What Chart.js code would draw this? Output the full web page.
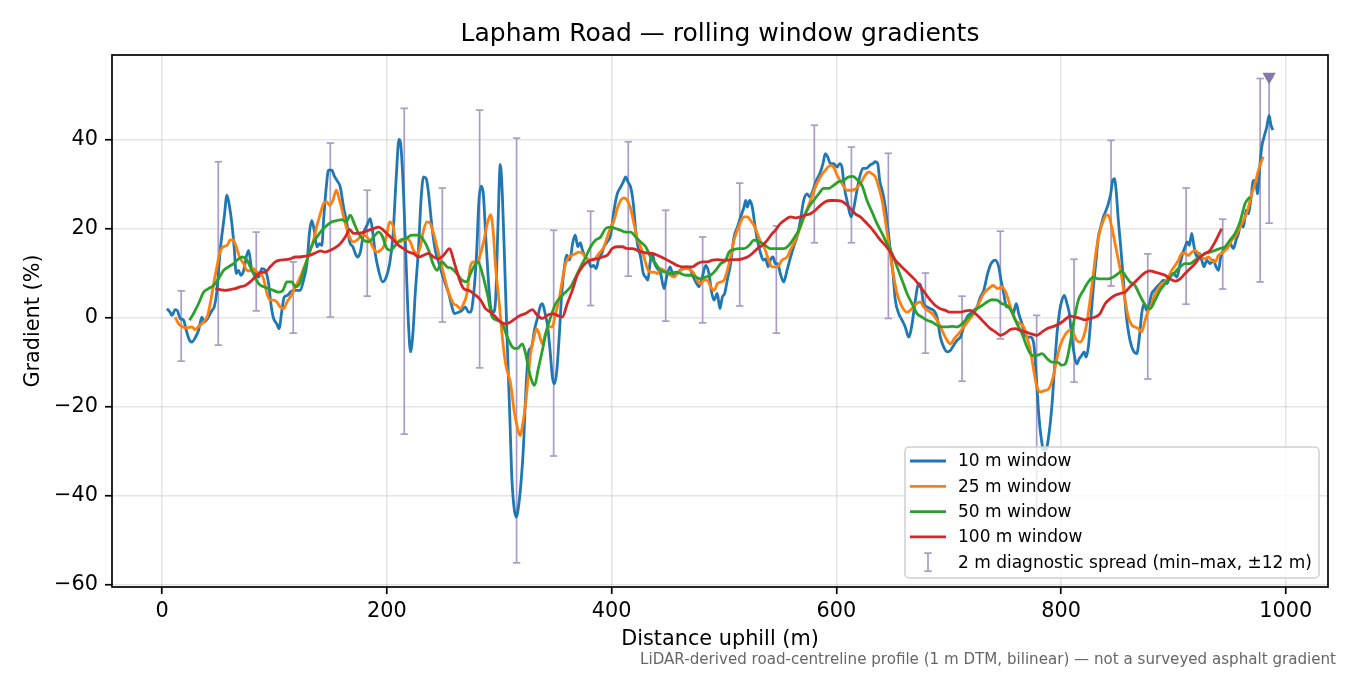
<!DOCTYPE html>
<html>
<head>
<meta charset="utf-8">
<title>Lapham Road — rolling window gradients</title>
<script src="https://cdn.jsdelivr.net/npm/chart.js@4.4.1/dist/chart.umd.min.js"></script>
<style>
  html, body { margin: 0; padding: 0; background: #fff; }
  canvas { display: block; }
</style>
</head>
<body>
<canvas id="gradChart" width="1350" height="675"></canvas>
<script>
// 10 m rolling window
const dist10 = [
  4.2, 7, 8.6, 11.6, 13.6, 16, 19, 21.4, 24.3, 26.4,
  29.4, 32.3, 35.3, 37.4, 40.4, 44.2, 46.3, 48.7, 51.6, 55.2,
  57.6, 60, 62, 64, 65.9, 67.9, 70, 72.4, 74.8, 76.9,
  79.8, 82.8, 85.8, 88.7, 91.7, 94.7, 96.7, 99.1, 102, 104,
  106.5, 108.6, 111.6, 114, 117, 120, 122.8, 125.8, 128.8, 131,
  133, 135.3, 137.7, 140, 142.1, 143.6, 146, 148, 151, 153,
  155.5, 158.5, 161.4, 164.4, 166.8, 169.7, 171.8, 173.9, 176.3, 179.2,
  182.2, 185.2, 187.5, 189.6, 192.6, 196.1, 199.4, 202.4, 205.3, 208.3,
  210.7, 212.5, 214.8, 217.2, 219.3, 221, 223.1, 225.2, 228.2, 230.3,
  232.6, 235, 237.1, 240.1, 243, 246, 249, 252, 255, 257.9,
  260, 263.8, 266.8, 269.7, 272.7, 274.5, 277.5, 279.8, 281.9, 284,
  285.8, 287.8, 289.9, 292.3, 294.7, 296.7, 298.8, 300.9, 302.7, 304.7,
  307.1, 309.5, 311, 313.1, 315.1, 317.3, 319.5, 321.5, 323, 324.3,
  326.4, 328.8, 331.2, 334.2, 336.3, 338.4, 340.8, 343.1, 345.2, 347.3,
  349.1, 351.2, 353.3, 355.6, 358, 360.1, 362.2, 364, 365.2, 367.6,
  369.9, 372, 374.1, 376.4, 379.3, 381.7, 383.8, 386.2, 388.2, 391.2,
  393.2, 396.1, 399.1, 402.1, 405, 408, 410.4, 412.5, 414.5, 416.9,
  419.3, 421.4, 423.4, 425.8, 428.2, 430.3, 432.3, 434.1, 436.2, 438.3,
  440.7, 443.6, 446.6, 449, 452, 454.9, 457.9, 460.8, 463.8, 466.8,
  469.7, 472.7, 475.7, 477.7, 480.7, 483.7, 486.6, 488.7, 491.1, 494,
  496.4, 498.5, 500.6, 502.9, 505.9, 508.9, 511.9, 514.8, 517.8, 519.3,
  520.8, 522.8, 525.2, 527.3, 529.7, 532.6, 535, 537.1, 539.2, 541.2,
  543.6, 545.7, 547.8, 550.1, 553.1, 556.1, 558.5, 562, 565, 568,
  570.9, 573.9, 576.3, 579.2, 582.2, 585.2, 588.1, 590.2, 592.3, 594.7,
  597.6, 600.6, 603, 605, 607.1, 610.1, 613.1, 615.4, 617.8, 620.8,
  623.7, 626.7, 629.7, 632.6, 634.7, 636.8, 638.6, 641.5, 643.6, 645.7,
  648.1, 650.4, 652.5, 655.5, 658.5, 661.3, 664.4, 667.4, 670.3, 673.3,
  675.4, 677.7, 680.7, 683.7, 686.6, 689.6, 692.6, 695.5, 698.5, 701.5,
  704.5, 707.4, 710.4, 713.4, 716.3, 719.3, 722.3, 725.2, 728.2, 731.2,
  734.7, 737.7, 741.5, 744.5, 746.6, 749, 751.3, 754.3, 757.3, 760.2,
  762.3, 765.3, 767.4, 770.3, 772.7, 775.7, 778, 780.1, 782.2, 784.6,
  786.9, 789.3, 792, 794, 796.4, 798.8, 800.8, 802.9, 805.3, 807.4,
  809.5, 811.6, 813.9, 816.3, 818.4, 820.5, 822.3, 824.3, 826.4, 828.8,
  831.2, 833.2, 835.3, 837.7, 840.1, 842.1, 844.2, 846, 847.5, 849,
  851, 853.1, 855.5, 857.9, 860.2, 862.9, 865, 867.4, 869.7, 871.8,
  873.9, 876.3, 878, 880.7, 882.8, 885.2, 888.1, 891.1, 894.1, 897,
  900, 903, 906, 908.3, 910.4, 912.5, 914.2, 916.3, 918.4, 920.8,
  923.2, 925.2, 927.3, 929.7, 932.6, 935.6, 938, 940.1, 942.1, 944.5,
  947.5, 950.4, 953.4, 955.8, 957.9, 959.9, 962.3, 964.7, 966.8, 968.8,
  971.2, 973.6, 974.8, 976.6, 978.6, 980.7, 983.1, 985.2, 986.6, 988.4
];
const grad10 = [
  2.1, 1.3, 0.6, 1.9, 1.6, -0.1, -0.5, -2.8, -5, -5.4,
  -4.4, -2.8, 0.2, -0.9, -0.1, 1.7, 2.5, 6.2, 15.2, 22.7,
  27.6, 24.9, 21.2, 16, 10, 10.7, 9.6, 10.6, 13.7, 15.2,
  10.7, 10, 9.2, 11.1, 10.7, 7.7, 3.2, -0.1, -1.3, -2.4,
  1.7, 4.7, 5.1, 5.8, 6.2, 6.2, 6.2, 8.5, 12.2, 19,
  21.9, 19.7, 16, 16.7, 16.3, 21.9, 29.4, 33.2, 33.2, 32,
  30.9, 29.4, 24.9, 21.2, 17.1, 16, 14.5, 13.7, 14.8, 19,
  20.8, 22.3, 19, 14.5, 10.7, 8.1, 9.2, 12.2, 18.2, 31.7,
  40.1, 38.4, 27.9, 11.5, -2, -7.6, -3.5, 5.5, 16, 26.4,
  31.7, 31.3, 27.9, 20.4, 15.2, 12.6, 10, 7.7, 5.5, 2.5,
  1, 1.3, 1.7, 2.5, 1.3, 1.3, 6.2, 14.5, 26.4, 29.6,
  27.9, 19, 10, 2.5, 1.3, 4, 20.4, 34.5, 27.9, 13,
  -5.8, -23, -35, -42.5, -44.7, -42, -36.5, -29, -20, -13.3,
  -7.3, -6.5, -2.8, 0.2, 2.5, 3.2, 1, -2, -7.3, -13.3,
  -14.8, -11.8, -4.3, 5.5, 11.5, 14.1, 13, 14.5, 16.7, 18.6,
  16, 16.9, 15.2, 13.7, 13, 11.5, 11.8, 11.1, 13, 14.5,
  16, 17.1, 18.6, 24.2, 27.9, 29.4, 30.6, 31.7, 30.6, 29.4,
  25.7, 19.7, 16, 13.7, 10, 9.2, 8.5, 12.2, 14.5, 12.2,
  11.1, 10, 6.6, 9.2, 11.5, 9.6, 10, 10.7, 11.1, 11.5,
  11.1, 9.2, 7.7, 7, 9.2, 11.8, 10, 6.2, 4, 5.5,
  2.1, 4.7, 5.5, 8.5, 12.2, 18.2, 20.4, 22.7, 24.9, 26.4,
  24.9, 26.4, 24.9, 21.2, 17.5, 14.5, 13, 13.3, 11.5, 13,
  13.7, 12.2, 12.2, 10, 8.1, 10.7, 13, 16, 18.2, 21.9,
  26.4, 27.9, 27.2, 28.7, 30.9, 32.4, 34.7, 36.9, 36.2, 34.7,
  34.7, 33.9, 34.7, 33.9, 29.4, 25.7, 22.7, 24.6, 27.9, 31.7,
  33.6, 33.6, 34.3, 34.7, 35.1, 34.7, 30.9, 27.9, 24.9, 20.4,
  15.2, 10, 4, 1, -0.5, -2, -4.3, -1.3, 4, 7.7,
  7, 3.2, 2.5, 2.1, 1.7, 0.2, -4.3, -6.5, -7.6, -7.3,
  -6.1, -5, -4.3, -2, 0.2, 1, 1.7, 2.5, 4.7, 6.2,
  10, 12.2, 13, 11.5, 8.5, 5.5, 2.5, 2.5, 1, 3.2,
  1, -1.3, -3.5, -4.3, -4.3, -5.8, -13.3, -21.5, -26.7, -29.7,
  -29.4, -26, -19.3, -11.8, -3.5, 1.7, 4, 5.1, 3.2, 1,
  -4.3, -8, -10.3, -9.1, -8.4, -7.6, -8.8, -6.5, -0.5, 7,
  13, 18.2, 20.4, 22.7, 24.2, 25.7, 27.9, 30.9, 31.3, 28.7,
  21.9, 16, 8.5, 1, -3.5, -6.5, -7.6, -8, -4.3, 1,
  3.2, 1.7, 2.5, 5.5, 6.2, 7, 7.7, 8.5, 7.7, 9.2,
  10, 9.2, 12.2, 14.5, 16, 17.1, 16.3, 19, 16, 13.7,
  14.5, 13, 11.5, 13, 12.2, 13, 11.5, 10.7, 13.7, 15.2,
  16, 16.7, 15.6, 17.5, 19, 21.2, 20.4, 24.2, 23.4, 26.4,
  30.9, 30.2, 27.9, 33.2, 38.4, 40.7, 42.9, 45.5, 43.6, 42.2
];

// 25 m rolling window
const dist25 = [
  11.6, 14.5, 17.5, 22, 26.4, 29.4, 32.3, 36.8, 40.4, 43.3,
  46.3, 48.7, 51, 54, 57.6, 60.5, 62.9, 65.9, 68.8, 72.4,
  75.4, 78.3, 81.3, 84.3, 87.2, 90.2, 93.2, 96.1, 99.1, 102,
  105, 108, 111, 114, 117, 120, 122.8, 125.8, 128.8, 131.8,
  134.7, 137.7, 140.7, 143.6, 146.6, 149, 151.9, 154.9, 157.9, 160.8,
  163.8, 166.8, 169.7, 173.3, 176.3, 179.2, 182.2, 185.2, 188.1, 191.1,
  194.1, 197, 200, 202.4, 205.3, 208.3, 211.3, 214.8, 217.8, 220.8,
  223.7, 226.7, 229.7, 232.6, 235.6, 238.6, 241.5, 244.5, 247.5, 250.4,
  253.4, 256.4, 259.3, 262.3, 265.3, 268.2, 271.2, 274.2, 276.9, 279.8,
  283.4, 286.4, 289.3, 292.3, 294.7, 296.7, 299.7, 302.7, 305.6, 310.1,
  313.1, 316, 318.4, 321.4, 323.4, 325.5, 327.9, 330.9, 333.2, 335.3,
  338.3, 341.2, 344.2, 347.2, 350.1, 353.1, 356.1, 359, 362, 365,
  368, 370.9, 373.9, 376.9, 381.3, 384.9, 388.7, 393.2, 396.1, 399.1,
  402.1, 405, 408, 411, 414, 416.9, 419.9, 422.8, 425.8, 428.8,
  431.8, 434.7, 437.7, 440.7, 443.6, 446.6, 449.6, 452.5, 455.5, 458.5,
  461.4, 464.4, 467.4, 470.3, 473.3, 476.3, 479.2, 482.2, 485.2, 488.1,
  491.1, 494.1, 497, 500, 503, 505.9, 508.9, 511.9, 514.8, 517.8,
  520.8, 523.7, 526.7, 529.7, 532.6, 535.6, 539.8, 542.7, 545.7, 548.7,
  551.6, 556.1, 559, 563.5, 568, 572.4, 576.9, 581.3, 585.8, 590.2,
  594.7, 597.6, 600.6, 605, 609.5, 613.9, 617.8, 621.4, 625.8, 628.8,
  631.8, 634.7, 637.7, 640.7, 643.6, 646.6, 649.6, 654, 658.5, 662.9,
  667.4, 671.2, 674.8, 677.7, 681.3, 685.2, 689.6, 694.1, 698.5, 701.5,
  705, 708.9, 713.4, 717.8, 722.3, 726.7, 731.2, 735.6, 739.5, 743.6,
  747.5, 751.3, 754.9, 759.3, 763.8, 766.8, 769.7, 772.7, 775.7, 778.6,
  781.6, 785.2, 789, 793, 796, 799.2, 803.8, 808, 811, 813.9,
  816.9, 819.9, 822.8, 825.8, 828.8, 831.8, 834.7, 837.7, 840.1, 842.1,
  845.1, 848.1, 851, 854, 857, 859.9, 862.9, 865.9, 868.8, 871.8,
  874.8, 877.7, 880.7, 883.7, 886.6, 889.6, 892.6, 895.5, 898.5, 901.5,
  904.5, 907.4, 910.4, 913.4, 916.3, 919.3, 922.3, 925.2, 928.2, 931.2,
  934.1, 937.1, 940.1, 943, 946, 949, 951.9, 954.9, 957.9, 960.8,
  963.8, 966.8, 969.7, 972.7, 975.7, 978.6, 980.1
];
const grad25 = [
  0.2, -1.3, -1.9, -2.2, -2, -2.6, -1.9, -0.9, 0.6, 4,
  8.5, 11.5, 14.5, 16, 16.3, 17.5, 17.6, 16, 13.7, 12.2,
  10.7, 10.6, 11.1, 10.3, 10, 8.8, 5.5, 4, 4, 3.6,
  2.5, 2.1, 3.6, 4.7, 6.2, 7.7, 9.2, 11.1, 13, 15.2,
  17.5, 20.8, 23.4, 25.7, 26.1, 25.3, 26.4, 28.7, 26.4, 23.4,
  20.4, 18.2, 17.1, 17.5, 18.2, 18.6, 18.2, 17.1, 15.6, 14.8,
  15.2, 16, 19, 21.6, 20.8, 17.1, 17.1, 17.5, 17.8, 17.1,
  15.2, 14.5, 16, 19.7, 21.6, 21.2, 19, 16, 13, 10,
  7, 4.7, 3.2, 2.8, 2.1, 3.2, 5.5, 11.5, 12.6, 12.2,
  14.5, 17.5, 21.2, 23.2, 19, 11.5, 4, -4.3, -10.3, -14.8,
  -20.7, -24.5, -26.4, -23, -19.3, -14, -8, -4.3, -2.4, -3.5,
  -5.8, -3.5, -2, -2, 1, 4, 8.5, 12.2, 13.7, 14.1,
  14.5, 14.8, 14.5, 13.7, 13, 13.3, 14.5, 16, 18.2, 20.4,
  21.9, 24.6, 26.4, 27, 26.4, 24.6, 21.2, 17.8, 16, 13.7,
  11.1, 10.3, 10.3, 10, 11.1, 10.7, 10.3, 9.6, 9.2, 10,
  10.7, 11.1, 11.1, 10.7, 10, 8.5, 7.7, 8.5, 8.5, 7,
  6.2, 7.7, 8.1, 8.5, 10.7, 13.7, 17.5, 19.7, 21.6, 22.7,
  22.7, 21.9, 20.8, 19, 17.1, 16, 13, 11.5, 11.5, 11.8,
  13, 13.7, 15.2, 17.5, 20.4, 23.4, 26.4, 29.4, 31.7, 33.2,
  34.3, 33.9, 32.1, 30.2, 28.7, 28.7, 29.1, 30.2, 32.1, 32.8,
  32.4, 31.7, 29.4, 26.4, 21.9, 16.7, 11.5, 5.5, 2.5, 1.3,
  2.1, 3.2, 3.6, 2.5, 1.7, 1, -0.5, -2.8, -5, -5.8,
  -4.6, -3.5, -2, -0.5, 1, 3.2, 5.5, 6.6, 7.3, 6.6,
  7, 5.5, 2.5, -0.5, -1.3, -2, -4.3, -7.3, -11.8, -15.5,
  -16.6, -16.3, -15.9, -13.2, -9.5, -6.2, -3.7, -2.8, -3.5, -5,
  -5.4, -4.3, -1.3, 4, 10, 16, 19.7, 21.9, 23.1, 23.1,
  20.4, 16.7, 13, 9.2, 4, 0.2, -1.6, -2, -2.4, -3.1,
  -0.5, 1.7, 3.2, 5.5, 6.6, 7.7, 8.1, 9.2, 10.7, 11.8,
  13, 14.5, 14.5, 14.1, 14.8, 15.2, 14.5, 13.7, 13.3, 13.7,
  13, 12.6, 14.1, 14.5, 15.2, 16, 17.5, 18.2, 19.7, 21.2,
  22.7, 24.9, 27.9, 30.2, 33.2, 35.4, 36.2
];

// 50 m rolling window
const dist50 = [
  24.3, 27.9, 32.3, 36.8, 41.2, 45.7, 50.1, 54.6, 59, 63.5,
  68, 71.8, 75.4, 78.3, 81.9, 85.8, 90.2, 94.7, 99.1, 103.6,
  107.4, 111, 115.4, 118.4, 122.3, 125.2, 128.8, 133.2, 137.7, 142.1,
  146.6, 151, 155.5, 159.9, 163.8, 167.4, 170.9, 174.8, 179.2, 183.7,
  188.1, 192.6, 195.5, 200, 203, 207.4, 211.9, 216.3, 222.3, 228.2,
  232.6, 237.1, 241, 244.5, 249, 253.4, 257.9, 262.3, 266.8, 270.6,
  274.5, 278, 281, 284.9, 289.3, 293.8, 298.2, 302.7, 307.1, 311.6,
  316, 320.5, 323.4, 326.4, 329.4, 331.5, 334.4, 338.3, 342.1, 345.7,
  350.1, 354.6, 359, 363.5, 368, 372.4, 376.9, 381.3, 385.8, 390.2,
  394.7, 399.1, 403.6, 408, 412.5, 416.9, 421.4, 425.8, 430.3, 434.7,
  439.2, 443.6, 448.1, 452.5, 457, 461.4, 465.9, 470.3, 474.8, 479.2,
  483.7, 488.1, 492.6, 497, 501.5, 504.5, 508.9, 513.4, 517.8, 522.3,
  526.7, 531.2, 535.6, 541.2, 547.2, 553.1, 557.6, 562, 566.5, 570.9,
  575.4, 579.8, 584.3, 588.7, 593.2, 597.6, 602.1, 606.5, 611, 614.8,
  618.4, 622.8, 627.3, 631.8, 636.2, 640.7, 645.1, 649.6, 654, 658.5,
  662.9, 667.4, 671.8, 676.3, 680.7, 685.2, 689.6, 694.1, 698.5, 703,
  707.4, 711.9, 716.3, 720.8, 725.2, 729.7, 734.1, 738.6, 743, 747.5,
  752, 756.4, 760.8, 765.3, 769.7, 774.2, 778.6, 783.1, 787.5, 792,
  796.4, 800.8, 803.8, 806, 808, 811, 815.4, 819.9, 824.3, 828.8,
  833.2, 837.7, 842.1, 846.6, 851, 854, 857, 861.4, 865.9, 868.8,
  873.3, 876.3, 879.2, 883.7, 888.1, 892.6, 897, 901.5, 906, 910.4,
  914.8, 919.3, 923.7, 928.2, 932.6, 937.1, 941.5, 946, 950.4, 954.9,
  959.3, 963.8, 968.2
];
const grad50 = [
  -0.5, 1, 3.2, 5.8, 6.6, 7.3, 8.8, 10.7, 11.5, 12.2,
  13.3, 13.7, 13, 11.5, 9.6, 7.7, 7, 6.6, 6.2, 5.8,
  6.2, 8.1, 8.1, 7, 7.7, 10, 13, 16.3, 18.2, 19.7,
  20.8, 21.6, 21.9, 22.1, 21.6, 23.1, 21.2, 19, 17.5, 17.1,
  18.2, 19.3, 18.6, 15.6, 15.2, 16.3, 17.5, 17.8, 18.6, 18.6,
  17.5, 15.2, 12.2, 10.7, 12.6, 11.5, 11.1, 10, 8.5, 8.1,
  10, 11.8, 12.6, 10, 5.5, 0.2, -0.5, -1.3, -4.3, -6.5,
  -6.9, -5.8, -8, -11.8, -14.4, -15.1, -11.8, -7.3, -2.8, 0.2,
  3.2, 4.7, 5.8, 7, 9.2, 11.5, 13.7, 16, 17.5, 18.2,
  20.1, 20.4, 20.1, 19.7, 19.3, 19.3, 18.2, 17.1, 16, 13.7,
  12.2, 10.7, 10.3, 10, 10.3, 10, 9.6, 9.6, 9.2, 8.8,
  9.2, 9.6, 10.7, 12.2, 13, 14.8, 15.4, 15.6, 15.6, 16.3,
  17.5, 17.1, 16.5, 15.6, 15.6, 15.6, 16.3, 17.8, 19.7, 22.7,
  24.9, 26.4, 27.9, 29.1, 29.1, 29.8, 30.6, 30.9, 31.7, 31.8,
  31.1, 29.8, 26.4, 23.8, 21.2, 19, 16.7, 14.5, 11.5, 8.5,
  5.5, 3.2, 1, 0.2, -0.5, -0.9, -1.6, -2, -2, -1.9,
  -2, -1.3, -0.1, 1, 2.1, 2.8, 3.6, 4.1, 4, 3.2,
  2.8, 1.3, -1.3, -3.5, -6.5, -8.4, -8.4, -8, -9.1, -9.9,
  -9.9, -10.6, -10.3, -8.5, -5.8, -1.3, 4, 6.2, 8.1, 9.2,
  8.8, 8.8, 8.8, 9.2, 10, 10.6, 9.6, 8.1, 7.3, 5.8,
  3.6, 2.5, 2.1, 4, 6.2, 7.7, 9.2, 10.3, 11.5, 12.2,
  12.2, 13, 13.7, 14.5, 14.8, 15.2, 15.6, 16, 17.5, 19,
  21.6, 25.7, 27.2
];

// 100 m rolling window
const dist100 = [
  47.2, 51.6, 56.1, 60.5, 65, 69.4, 73.9, 78.3, 82.8, 87.2,
  91.7, 96.1, 100.6, 105, 109.5, 114, 118.4, 122.8, 127.3, 131.8,
  136.2, 140.7, 145.1, 149.6, 154, 158.5, 162.9, 166.8, 170.3, 174.8,
  179.2, 183.7, 188.1, 192.6, 197, 201.5, 205.9, 210.4, 214.8, 219.3,
  223.7, 228.2, 232.6, 237.1, 241.5, 246, 250.4, 255.8, 259.3, 263.8,
  268.2, 272.7, 279, 283.4, 287.8, 292.3, 296.7, 301.2, 305.6, 310.1,
  314.5, 319, 323.4, 329.4, 333.8, 338.3, 342.7, 347.2, 351.6, 356.1,
  360.5, 365, 369.4, 373.9, 378.3, 382.8, 387.2, 391.7, 396.1, 400.6,
  405, 409.5, 413.9, 418.4, 422.8, 427.3, 431.8, 436.2, 440.7, 445.1,
  449.6, 454, 458.5, 462.9, 467.4, 471.8, 476.3, 480.7, 485.2, 489.6,
  494.1, 498.5, 503, 507.4, 511.9, 516.3, 520.8, 525.2, 529.7, 534.1,
  538.6, 543, 545.7, 550.1, 554.6, 559, 563.5, 568, 572.4, 576.9,
  581.3, 585.8, 590.2, 594.7, 599.1, 603.6, 608, 612.5, 616.9, 621.4,
  625.8, 630.3, 634.7, 639.2, 643.6, 648.1, 652.5, 657, 661.4, 665.9,
  670.3, 674.8, 679.2, 683.7, 688.1, 692.6, 697.1, 701.5, 706, 710.4,
  714.9, 719.3, 723.8, 728.2, 732.7, 737.1, 741.5, 746, 750.5, 754.9,
  759.4, 763.8, 768.3, 772.7, 778.6, 783.1, 787.5, 792, 796.4, 800.8,
  805.3, 808, 812.5, 816.9, 821.4, 825.8, 830.3, 834.7, 839.2, 843.6,
  848.1, 852.5, 857, 861.4, 865.9, 870.3, 874.8, 879.2, 883.7, 888.1,
  892.6, 897, 901.5, 906, 910.4, 914.8, 919.3, 923.7, 928.2, 932.6,
  937.1, 940.1, 943
];
const grad100 = [
  6.6, 6.4, 6.2, 6.4, 6.6, 7, 7.3, 8.1, 9.2, 10.2,
  10.3, 11.5, 12.6, 13, 13.1, 13.3, 13.7, 13.7, 13.9, 14.1,
  14.6, 15.1, 14.8, 15.2, 15.8, 16.7, 18.2, 19.9, 19, 19,
  19.3, 19.7, 20.1, 20.4, 19.7, 18.6, 17.5, 16.3, 15.6, 14.8,
  14.5, 13.7, 14.1, 14.5, 13.7, 13.3, 14.1, 15.6, 13, 9.2,
  6.6, 6.2, 5.1, 4, 2.1, 1.3, 0.2, -0.9, -1.3, -0.9,
  -0.1, 0.6, 1, 1.9, 0.6, -0.1, 0.6, 1, 0.6, 0.2,
  3.2, 6.2, 9.6, 11.5, 12.6, 13.1, 13.3, 13.7, 14.1, 15.6,
  16, 16, 15.6, 15.6, 15.2, 14.8, 14.6, 14.5, 14.1, 13.6,
  13, 12.4, 11.8, 11.5, 11.5, 11.5, 12.2, 12.6, 12.6, 13,
  13.1, 13, 13, 13.1, 13.1, 13.3, 13.7, 14.5, 15.6, 16.3,
  17.5, 19, 19.7, 21.2, 22.1, 22.7, 22.5, 22.7, 23.1, 23.4,
  24.2, 25.3, 26.1, 26.4, 26.4, 26.3, 25.7, 24.6, 23.4, 22.7,
  21.6, 20.4, 19, 17.5, 16.3, 14.8, 13, 11.8, 10.7, 9.6,
  8.5, 7, 5.5, 4, 2.8, 2.1, 1.7, 1.3, 1.3, 1.3,
  1.6, 1.7, 1, -0.1, -1.3, -2.4, -3.1, -3.9, -3.4, -2.6,
  -2.4, -2.8, -3.1, -3.5, -3.9, -3.1, -2.4, -2, -1.6, -0.9,
  0, 0.4, 0.2, -0.1, -0.4, -0.1, 0.2, 1, 3.2, 4.3,
  5.1, 5.5, 5.8, 7, 8.1, 9.2, 10.2, 10.6, 10.3, 10,
  9.6, 8.8, 8.3, 8.8, 10, 11.1, 12.2, 13.7, 14.5, 15.2,
  17.1, 18.6, 20.1
];

// 2 m diagnostic spread (min-max within +/-12 m)
const spreadDist = [16.9, 49.9, 83.7, 116.6, 149.6, 182.5, 215.4, 249.3, 282.5, 315.4,
  348.4, 381.3, 414.8, 448.1, 481, 514, 546.6, 580.4, 613.4, 646.3,
  679.3, 711.9, 746, 778.3, 811.6, 844.5, 877.2, 911.3, 943.9, 977.2, 985.2];
const spreadMin = [-9.7, -6.1, 1.6, -3.4, 0.2, 4.9, -26.1, -0.9, -11.2, -55,
  -31, 2.8, 9.4, -0.7, -1.1, 2.7, -3.4, 16.9, 16.9, -0.1,
  -7.9, -14.2, -4.7, -44, -14.4, 7.2, -13.7, 3.1, 6.5, 8.1, 21.3];
const spreadMax = [6.1, 35.1, 19.3, 12.6, 39.3, 28.7, 47.1, 29.2, 46.7, 40.4,
  19.7, 24, 39.6, 24.2, 18.2, 30.3, 20.7, 43.3, 38.4, 37,
  10.1, 4.9, 19.5, 0.6, 13.2, 39.9, 14.4, 29.2, 22.2, 53.8, 53.9];

// steepest 2 m reading
const peakDist = [985.2];
const peakGrad = [54.2];

const legendLabels = ["10 m window", "25 m window", "50 m window", "100 m window",
  "2 m diagnostic spread (min\u2013max, \u00b112 m)"];
const titleText = "Lapham Road \u2014 rolling window gradients";
const noteText = "LiDAR-derived road-centreline profile (1 m DTM, bilinear) \u2014 not a surveyed asphalt gradient";

const FONT = "'DejaVu Sans', 'Liberation Sans', sans-serif";
const colors = ["#1f77b4", "#ff7f0e", "#2ca02c", "#d62728"];
const spreadColor = "#a99cc8";
const peakColor = "#8878ad";

Chart.defaults.font.family = FONT;
Chart.defaults.color = "#000";

function pts(xs, ys) {
  return xs.map((x, i) => ({ x: x, y: ys[i] }));
}

const spreadPts = [];
spreadDist.forEach((x, i) => {
  spreadPts.push({ x: x, y: spreadMin[i] }, { x: x, y: spreadMax[i] }, { x: x, y: null });
});

function lineSet(label, xs, ys, color, order) {
  return {
    label: label,
    data: pts(xs, ys),
    borderColor: color,
    backgroundColor: color,
    borderWidth: 2.8,
    pointRadius: 0,
    cubicInterpolationMode: "monotone",
    order: order
  };
}

function minus(v) {
  return v < 0 ? "\u2212" + Math.abs(v) : String(v);
}

// frame, legend, title and footnote
const extras = {
  id: "extras",
  afterDatasetsDraw(chart) {
    const { ctx, chartArea: a } = chart;
    ctx.save();
    ctx.strokeStyle = "#000";
    ctx.lineWidth = 1.7;
    ctx.strokeRect(a.left, a.top, a.right - a.left, a.bottom - a.top);

    // legend box
    const bw = 414, bh = 131;
    const bx = a.right - 9 - bw, by = a.bottom - 9 - bh;
    ctx.beginPath();
    ctx.roundRect(bx, by, bw, bh, 4);
    ctx.fillStyle = "rgba(255,255,255,0.8)";
    ctx.fill();
    ctx.strokeStyle = "#d0d0d0";
    ctx.lineWidth = 1.5;
    ctx.stroke();

    ctx.font = "17px " + FONT;
    ctx.textBaseline = "middle";
    ctx.textAlign = "left";
    legendLabels.forEach((lab, i) => {
      const ry = by + 14 + i * 25.3;
      if (i < 4) {
        ctx.strokeStyle = colors[i];
        ctx.lineWidth = 2.8;
        ctx.beginPath();
        ctx.moveTo(bx + 5, ry);
        ctx.lineTo(bx + 41, ry);
        ctx.stroke();
      } else {
        const mx = bx + 23;
        ctx.strokeStyle = spreadColor;
        ctx.lineWidth = 1.7;
        ctx.beginPath();
        ctx.moveTo(mx, ry - 9); ctx.lineTo(mx, ry + 9);
        ctx.moveTo(mx - 3.7, ry - 9); ctx.lineTo(mx + 3.7, ry - 9);
        ctx.moveTo(mx - 3.7, ry + 9); ctx.lineTo(mx + 3.7, ry + 9);
        ctx.stroke();
      }
      ctx.fillStyle = "#000";
      ctx.fillText(lab, bx + 53, ry + 1);
    });
    ctx.restore();
  },
  afterDraw(chart) {
    const { ctx, chartArea: a } = chart;
    ctx.save();
    ctx.fillStyle = "#000";
    ctx.textAlign = "center";
    ctx.textBaseline = "middle";
    ctx.font = "25px " + FONT;
    ctx.fillText(titleText, (a.left + a.right) / 2, 34);
    ctx.fillStyle = "#666";
    ctx.textAlign = "right";
    ctx.font = "15.1px " + FONT;
    ctx.fillText(noteText, chart.width - 14, 660);
    ctx.restore();
  }
};

new Chart("gradChart", {
  type: "line",
  data: {
    datasets: [
      lineSet(legendLabels[0], dist10, grad10, colors[0], 4),
      lineSet(legendLabels[1], dist25, grad25, colors[1], 3),
      lineSet(legendLabels[2], dist50, grad50, colors[2], 2),
      lineSet(legendLabels[3], dist100, grad100, colors[3], 1),
      {
        label: legendLabels[4],
        data: spreadPts,
        borderColor: spreadColor,
        borderWidth: 1.7,
        spanGaps: false,
        pointStyle: "line",
        pointRadius: 3.7,
        pointBorderWidth: 1.7,
        pointBorderColor: spreadColor,
        pointHoverRadius: 3.7,
        order: 5
      },
      {
        label: "peak",
        data: pts(peakDist, peakGrad),
        showLine: false,
        pointStyle: "triangle",
        rotation: 180,
        pointRadius: 7.7,
        pointBackgroundColor: peakColor,
        pointBorderColor: peakColor,
        pointBorderWidth: 0,
        order: 0
      }
    ]
  },
  options: {
    responsive: false,
    animation: false,
    devicePixelRatio: 1,
    layout: { padding: { left: 0, right: 22, top: 55, bottom: 0 } },
    plugins: {
      legend: { display: false },
      tooltip: { enabled: false },
      title: { display: false }
    },
    scales: {
      x: {
        type: "linear",
        min: -44.7,
        max: 1037.6,
        afterFit(scale) { scale.height = 88; },
        grid: { color: "rgba(0,0,0,0.1)", lineWidth: 1.5, tickColor: "#000", tickWidth: 1.7, tickLength: 7 },
        border: { display: false },
        ticks: {
          stepSize: 200,
          includeBounds: false,
          padding: 5,
          color: "#000",
          font: { size: 20.8 },
          maxRotation: 0,
          callback: (v) => String(v)
        },
        title: {
          display: true,
          text: "Distance uphill (m)",
          color: "#000",
          font: { size: 20.8 },
          padding: { top: 0, bottom: 23 }
        }
      },
      y: {
        min: -60.43,
        max: 59.08,
        afterFit(scale) { scale.width = 112; },
        grid: { color: "rgba(0,0,0,0.1)", lineWidth: 1.5, tickColor: "#000", tickWidth: 1.7, tickLength: 7 },
        border: { display: false },
        ticks: {
          stepSize: 20,
          includeBounds: false,
          padding: 7,
          color: "#000",
          font: { size: 20.8 },
          callback: (v) => minus(v)
        },
        title: {
          display: true,
          text: "Gradient (%)",
          color: "#000",
          font: { size: 20.8 },
          padding: { top: 21.5, bottom: 0 }
        }
      }
    }
  },
  plugins: [extras]
});
</script>
</body>
</html>
